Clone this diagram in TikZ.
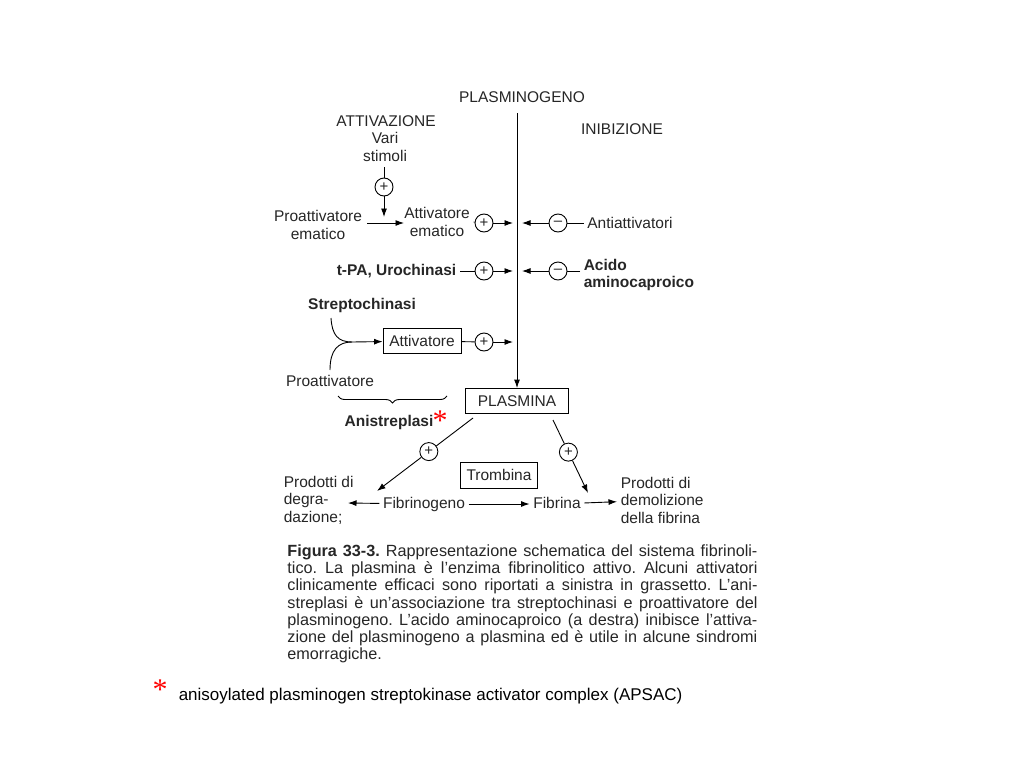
\documentclass[tikz,border=0pt]{standalone}
\usepackage{fontspec}
\setmainfont{Liberation Sans}
\newfontfamily\astfont{Liberation Serif}
\usetikzlibrary{arrows.meta,positioning,decorations.pathreplacing}

\begin{document}
\frenchspacing
\begin{tikzpicture}[x=1pt,y=-1pt,>={Latex[length=8.5pt,width=6pt]},line width=0.9pt,
    every node/.style={font=\fontsize{15.5}{17.5}\selectfont,text=black!85},
    plus/.style={circle,draw,inner sep=0pt,minimum size=18pt,font=\fontsize{15}{15}\selectfont},
    box/.style={draw,inner sep=3pt,minimum height=25pt},
    bold/.style={font=\fontsize{15.5}{17.5}\selectfont\bfseries},
    flat/.style={text height=11pt,text depth=3pt},
    star/.style={text=red,font=\fontsize{30}{30}\astfont}]
  \useasboundingbox (0,0) rectangle (1024,768);

  % colonna centrale
  \node (pg) at (522,97) {PLASMINOGENO};
  \node (att) at (386,121) {ATTIVAZIONE};
  \node (ini) at (622,129) {INIBIZIONE};
  \node[box,minimum width=103pt] (pl) at (517,401) {PLASMINA};
  \coordinate (top) at (517,113);
  \draw[->] (top) -- (pl);

  % attivatore ematico
  \node[align=center] (vs) at (385,147) {Vari\\stimoli};
  \node[plus] (p1) at (384,187) {+};
  \node[align=center] (pe) at (318,225) {Proattivatore\\ematico};
  \node[align=center] (ae) at (437,222) {Attivatore\\ematico};
  \node[plus] (p2) at (484,223) {+};
  \node[plus] (m1) at (558,223) {–};
  \node (anti) at (630,223) {Antiattivatori};
  \coordinate (v1) at (384,167);
  \coordinate (v2) at (384,217);
  \coordinate (a1) at (367,223);
  \coordinate (a2) at (404,223);
  \coordinate (c1) at (513,223);
  \coordinate (c2) at (522,223);
  \draw (v1) -- (p1);
  \draw[->] (p1) -- (v2);
  \draw[->] (a1) -- (a2);
  \draw (ae.east) -- (p2);
  \draw[->] (p2) -- (c1);
  \draw[->] (m1) -- (c2);
  \draw (anti) -- (m1);

  % t-PA e acido aminocaproico
  \node[bold,anchor=east] (tpa) at (460,271) {t-PA, Urochinasi};
  \node[plus] (p3) at (484,271) {+};
  \node[plus] (m2) at (558,271) {–};
  \node[bold,align=left,anchor=west] (acido) at (580,275) {Acido\\aminocaproico};
  \coordinate (c3) at (513,271);
  \coordinate (c4) at (522,271);
  \coordinate (c5) at (580,271);
  \draw (tpa) -- (p3);
  \draw[->] (p3) -- (c3);
  \draw[->] (m2) -- (c4);
  \draw (c5) -- (m2);

  % streptochinasi
  \node[bold] (strep) at (362,305) {Streptochinasi};
  \node[box,minimum width=78pt] (attv) at (422,341) {Attivatore};
  \node[plus] (p4) at (484,342) {+};
  \node (proa) at (330,381) {Proattivatore};
  \coordinate (s1) at (331,318);
  \coordinate (s2) at (330,370);
  \coordinate (j) at (352,342);
  \coordinate (c6) at (513,342);
  \draw (s1) .. controls (332,335) and (338,342) .. (j);
  \draw (s2) .. controls (330,350) and (338,342) .. (j);
  \draw[->] (j) -- (attv);
  \draw (attv) -- (p4);
  \draw[->] (p4) -- (c6);
  \draw[decorate,decoration={brace,mirror,amplitude=7pt}] (338,396) -- (447,396);
  \node[bold] (anis) at (389,422) {Anistreplasi};
  \node[star] (ast) at (440,421) {*};

  % plasmina
  \coordinate (pl1) at (473,418);
  \coordinate (pl2) at (553,420);
  \coordinate (d1) at (377,491);
  \coordinate (d2) at (588,493);
  \path (pl1) -- (d1) node[plus,pos=0.46] (p5) {+};
  \path (pl2) -- (d2) node[plus,pos=0.44] (p6) {+};
  \draw (pl1) -- (p5);
  \draw[->] (p5) -- (d1);
  \draw (pl2) -- (p6);
  \draw[->] (p6) -- (d2);
  \node[box,minimum width=77pt,minimum height=26pt] (tromb) at (499,475) {Trombina};
  \node[flat] (fgen) at (424,504) {Fibrinogeno};
  \node[flat] (fina) at (557,504) {Fibrina};
  \node[align=left,anchor=west] (pdd) at (280,500) {Prodotti di\\degra-\\dazione;};
  \node[align=left,anchor=west] (pdf) at (617,500) {Prodotti di\\demolizione\\della fibrina};
  \coordinate (e1) at (348,503);
  \draw[->] (fgen) -- (e1);
  \draw[->] (fgen) -- (fina);
  \draw[->] (fina) -- (pdf);

  % didascalia
  \node[anchor=north west,text width=470pt,align=justify,inner sep=0pt,
        font=\fontsize{16.2}{17.3}\selectfont] (cap) at (287,544)
    {\textbf{Figura 33-3.} Rappresentazione schematica del sistema fibrinoli-\linebreak
     tico. La plasmina è l’enzima fibrinolitico attivo. Alcuni attivatori\linebreak
     clinicamente efficaci sono riportati a sinistra in grassetto. L’ani-\linebreak
     streplasi è un’associazione tra streptochinasi e proattivatore del\linebreak
     plasminogeno. L’acido aminocaproico (a destra) inibisce l’attiva-\linebreak
     zione del plasminogeno a plasmina ed è utile in alcune sindromi\linebreak
     emorragiche.};

  % nota
  \node[star] (ast2) at (160,690) {*};
  \node[anchor=west,text=black,font=\fontsize{17}{19}\selectfont] (nota) at (175,696)
    {anisoylated plasminogen streptokinase activator complex (APSAC)};
\end{tikzpicture}
\end{document}
